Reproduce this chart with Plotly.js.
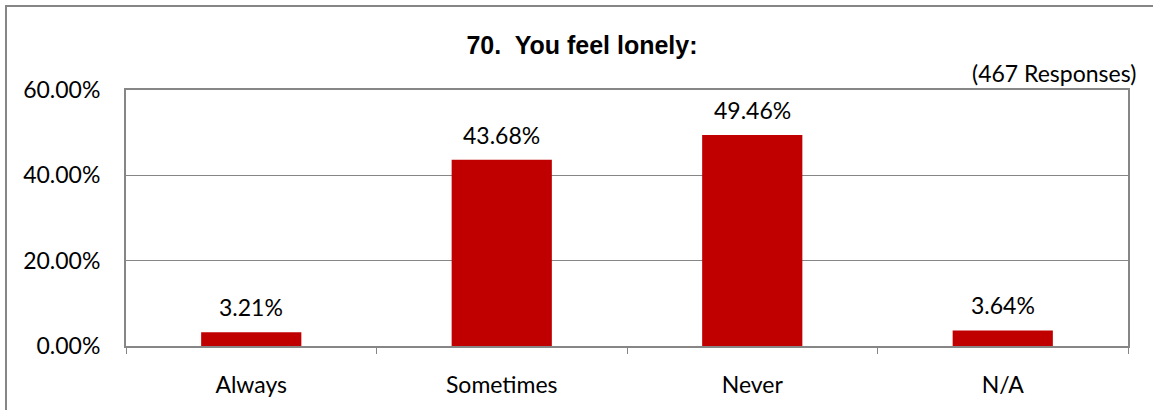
<!DOCTYPE html>
<html><head><meta charset="utf-8">
<script src="https://cdn.plot.ly/plotly-3.0.1.min.js"></script>
<style>html,body{margin:0;padding:0;background:#fff;}#chart{width:1153px;height:410px;}</style>
</head><body><div id="chart"></div>
<script>
const categories = ["Always", "Sometimes", "Never", "N/A"];
const percentValues = [3.21, 43.68, 49.46, 3.64];
const yTickValues = [0, 20, 40, 60];
const titleText = "70.  You feel lonely:";
const responsesText = "(467 Responses)";

const L = 126, R = 25, T = 90, B = 64, W = 1153, H = 410;
const pw = W - L - R, ph = H - T - B;
const px = v => (v - L) / pw;
const py = v => (H - B - v) / ph;
const font = "Lato, 'Open Sans', sans-serif";
const fs = 23;

Plotly.newPlot("chart", [{
  type: "bar",
  x: categories,
  y: percentValues,
  width: 0.4,
  marker: {color: "#C00000"},
  hoverinfo: "skip"
}], {
  width: W, height: H,
  margin: {l: L, r: R, t: T, b: B, pad: 0},
  paper_bgcolor: "#fff", plot_bgcolor: "#fff",
  showlegend: false,
  xaxis: {
    type: "category",
    showgrid: false,
    showline: true, linecolor: "#868686", linewidth: 2, mirror: true,
    ticks: "outside", ticklen: 6, tickcolor: "#868686", tickwidth: 1,
    tickson: "boundaries",
    tickfont: {family: font, size: fs, color: "#000"},
    ticklabelstandoff: 17
  },
  yaxis: {
    range: [0, 60],
    tickvals: yTickValues,
    ticktext: yTickValues.map(v => v.toFixed(2) + "%"),
    showgrid: true, gridcolor: "#868686", gridwidth: 1,
    zeroline: false,
    showline: true, linecolor: "#868686", linewidth: 2, mirror: true,
    ticks: "",
    tickfont: {family: font, size: fs, color: "#000"},
    ticklabelstandoff: 19
  },
  title: {text: "<b>" + titleText + "</b>", font: {family: "Arial, 'Liberation Sans', sans-serif", size: 25, color: "#000"},
    x: px(582), xanchor: "center", xref: "paper", y: 1 - 45 / H, yanchor: "middle"},
  annotations: [{
    text: responsesText, xref: "paper", yref: "paper",
    x: px(1138), y: py(73), xanchor: "right", yanchor: "middle",
    showarrow: false, font: {family: font, size: fs, color: "#000"}
  }].concat(categories.map((c, i) => ({
    x: c, y: percentValues[i], xref: "x", yref: "y",
    text: percentValues[i].toFixed(2) + "%",
    showarrow: false, xanchor: "center", yanchor: "bottom", yshift: 9,
    font: {family: font, size: fs, color: "#000"}
  }))),
  shapes: [{
    type: "rect", xref: "paper", yref: "paper",
    x0: px(6), x1: px(1170), y0: py(430), y1: py(6),
    line: {color: "#868686", width: 2}, fillcolor: "rgba(0,0,0,0)", layer: "below"
  }]
}, {displayModeBar: false, staticPlot: true});
</script></body></html>
